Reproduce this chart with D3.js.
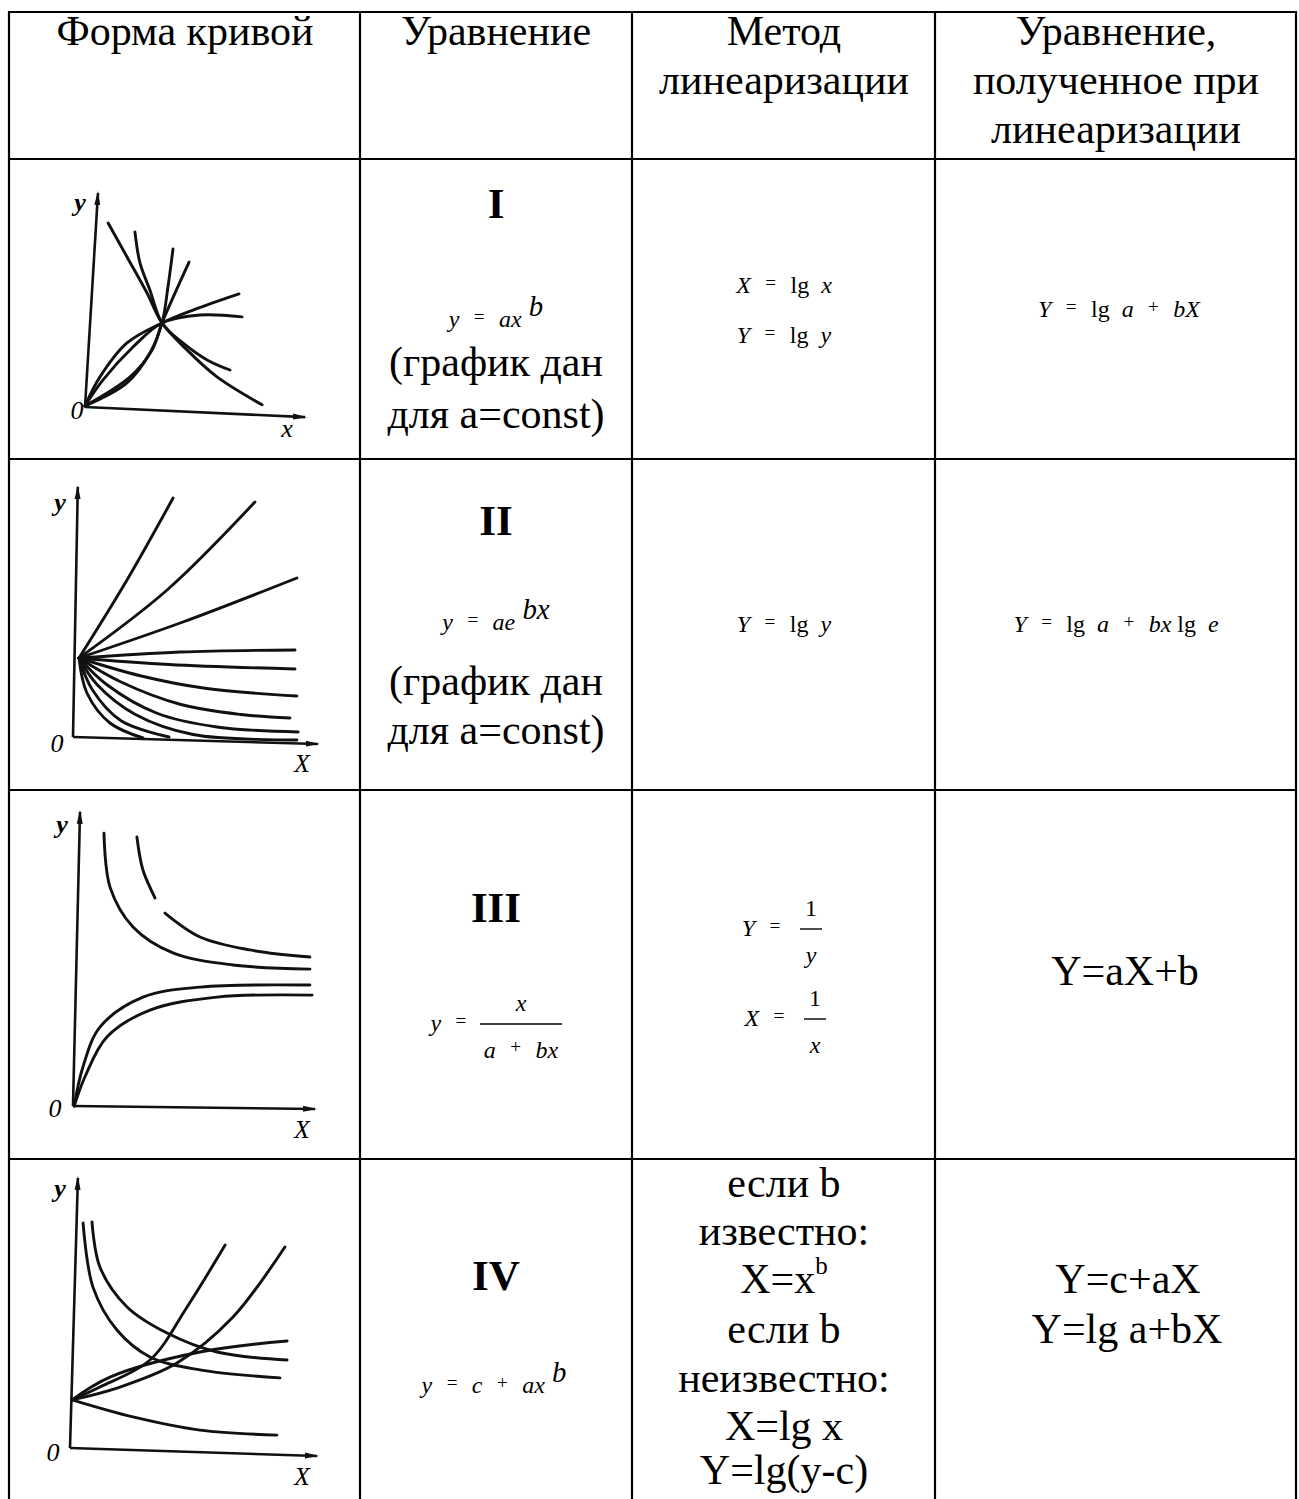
<!DOCTYPE html>
<html>
<head>
<meta charset="utf-8">
<script src="https://cdn.jsdelivr.net/npm/d3@7"></script>
<style>
    body { margin: 0; background: #fff; }
    svg { display: block; }
    text { font-family: "Liberation Serif", "Times New Roman", serif; fill: #000; white-space: pre; }
    .grid { stroke: #000; stroke-width: 2.2; }
    .curve { fill: none; stroke: #111; stroke-width: 2.9; stroke-linecap: round; }
    .axisLine { fill: none; stroke: #111; stroke-width: 2.6; }
</style>
</head>
<body>
<script>
(function () {

    //---- table text ----
    var headerLines = [
        ["Форма кривой"],
        ["Уравнение"],
        ["Метод", "линеаризации"],
        ["Уравнение,", "полученное при", "линеаризации"]
    ];
    var romanNums = ["I", "II", "III", "IV"];
    var noteLines = ["(график дан", "для a=const)"];

    //formula pieces: [text, kind]  kind: i = italic, eq = small sign, sup = superscript
    var eqPower = [["y", "i"], ["   =   ", "eq"], ["ax", "i"], [" b", "sup"]];
    var eqExp = [["y", "i"], ["   =   ", "eq"], ["ae", "i"], [" bx", "sup"]];
    var eqPowerShift = [["y", "i"], ["   =   ", "eq"], ["c", "i"], ["   +   ", "eq"], ["ax", "i"], [" b", "sup"]];
    var methodLogX = [["X", "i"], ["   =   ", "eq"], ["lg  "], ["x", "i"]];
    var methodLogY = [["Y", "i"], ["   =   ", "eq"], ["lg  "], ["y", "i"]];
    var resultI = [["Y", "i"], ["   =   ", "eq"], ["lg  "], ["a", "i"], ["   +   ", "eq"], ["bX", "i"]];
    var resultII = [["Y", "i"], ["   =   ", "eq"], ["lg  "], ["a", "i"], ["   +   ", "eq"], ["bx", "i"], [" lg  "], ["e", "i"]];
    var fracIII = { left: [["y", "i"], ["   =  ", "eq"]], num: [["x", "i"]], den: [["a", "i"], ["   +   ", "eq"], ["bx", "i"]] };
    var methodFracIII = [
        { left: [["Y", "i"], ["   =  ", "eq"]], num: [["1"]], den: [["y", "i"]] },
        { left: [["X", "i"], ["   =  ", "eq"]], num: [["1"]], den: [["x", "i"]] }
    ];
    var resultIII = ["Y=aX+b"];
    var methodIV = ["если b", "известно:", "X=x", "если b", "неизвестно:", "X=lg x", "Y=lg(y-c)"];
    var resultIV = ["Y=c+aX", "Y=lg a+bX"];

    //---- sketch curves in panel units (0..100 on each axis) ----
    var axesI = [[[0, 0], [5.9, 99.5]], [[0, 0], [100, -4.7]]];
    var curvesI = [
        [[10.5, 85.6], [19.1, 69.8], [28.2, 53.0], [35, 39.1], [46.4, 26.5], [60, 14], [80.5, 1]],
        [[22.7, 81.4], [25, 67], [29.5, 54.4], [35, 39.1], [44.5, 29.8], [55.5, 21.9], [65.9, 17.2]],
        [[0, 0.5], [19.1, 11.2], [29.5, 25.1], [35, 39.1], [37.7, 55.8], [40, 73.5]],
        [[0, 0.5], [20.5, 14], [30.5, 26.5], [35, 39.1], [40.9, 53], [47.3, 67.4]],
        [[0, 0.5], [6.8, 14], [19.1, 29.8], [35, 39.1], [49.1, 45.1], [70, 52.6]],
        [[0, 0.5], [8.2, 12.6], [21.8, 27.9], [35, 39.1], [52.3, 42.8], [71.4, 41.9]]
    ];
    var labelsI = [["y", -2.3, 95.3], ["0", -3.6, -1.4], ["x", 91.8, -9.8]];

    var axesII = [[[0, 0], [2, 100]], [[0, 0], [102, -2.8]]];
    var curvesII = [
        [[2.5, 31.6], [22.5, 62.8], [41.7, 95.6]],
        [[2.5, 31.6], [39.2, 58.8], [75.8, 94]],
        [[2.5, 31.6], [45.8, 46], [93.3, 63.6]],
        [[2.5, 31.6], [44.6, 34], [92.5, 34.8]],
        [[2.5, 31.6], [40, 29], [92.5, 27.2]],
        [[2.5, 31.6], [28, 24.5], [55, 19.5], [93.3, 16.4]],
        [[2.5, 31.6], [20, 22], [45, 13], [70, 9], [90.4, 7.6]],
        [[2.5, 31.6], [14, 21], [35, 9.5], [60, 4], [93.8, 2]],
        [[2.5, 31.6], [10, 21], [26, 9], [50, 1], [93.3, -1.2]],
        [[2.5, 31.6], [8, 19], [20, 6.5], [40, 0]],
        [[2.5, 31.6], [5.8, 17.6], [15.4, 5.6], [29.2, -0.4]]
    ];
    var labelsII = [["y", -5.4, 94], ["0", -6.7, -2.4], ["X", 95.4, -10.4]];

    var axesIII = [[[0, 0], [2.9, 99.7]], [[0, 0], [100, -1]]];
    var curvesIII = [
        [[12.8, 92.5], [15.3, 74.2], [24.8, 60.7], [41.3, 51.9], [66.1, 47.8], [97.9, 46.4]],
        [[26.4, 91.2], [28.9, 80], [33.9, 70.5]],
        [[38, 65.4], [52.5, 57.3], [73.1, 52.9], [97.9, 50.5]],
        [[0.5, 0], [4.1, 13.2], [11.2, 26.8], [28.9, 36.9], [52.5, 40.3], [97.9, 41]],
        [[0.5, 0], [5, 10], [14, 23.4], [31.8, 32.5], [59.5, 36.9], [98.8, 37.6]]
    ];
    var labelsIII = [["y", -4.5, 95.3], ["0", -7.4, -0.7], ["X", 94.6, -8.1]];

    var axesIV = [[[0, 0], [3.2, 98.2]], [[0, 0], [100, -2.9]]];
    var curvesIV = [
        [[5.3, 81.8], [9.3, 58.5], [19, 42.9], [32.4, 33.1], [52.6, 28.4], [85, 25.5]],
        [[8.9, 82.2], [12.1, 65.8], [23.1, 51.3], [39.3, 41.8], [59.5, 34.9], [87.9, 32]],
        [[0.8, 17.5], [12.1, 22.2], [32.4, 32], [47.4, 51.3], [62.8, 73.8]],
        [[0.8, 17.5], [19, 21.8], [43.3, 30.9], [66, 47.6], [87, 73.1]],
        [[0.8, 17.5], [16.2, 25.8], [52.6, 34.9], [87.9, 38.9]],
        [[0.8, 17.5], [25.5, 11.3], [52.6, 6.5], [83.8, 4.7]]
    ];
    var labelsIV = [["y", -4, 94.5], ["0", -6.9, -1.8], ["X", 93.9, -10.5]];

    //---- layout ----
    var width = 1299, height = 1499;
    var colX = [9, 360, 632, 935, 1296];
    var rowY = [12, 159, 459, 790, 1159];
    var colMid = [185, 496, 784, 1116];
    var bodySize = 42, mathSize = 24;

    var svg = d3.select("body").append("svg")
        .attr("width", width)
        .attr("height", height);

    //arrow head for the sketch axes
    svg.append("defs").append("marker")
        .attr("id", "arrow")
        .attr("viewBox", "0 0 14 8")
        .attr("refX", 12).attr("refY", 4)
        .attr("markerWidth", 14).attr("markerHeight", 8)
        .attr("markerUnits", "userSpaceOnUse")
        .attr("orient", "auto")
        .append("path")
        .attr("d", "M0,1 L14,4 L0,7 Z")
        .attr("fill", "#111");

    //table rules
    svg.selectAll(".hRule")
        .data(rowY)
        .enter()
        .append("line")
        .attr("class", "grid hRule")
        .attr("x1", colX[0] - 1).attr("x2", colX[4] + 1)
        .attr("y1", function (d) { return d; })
        .attr("y2", function (d) { return d; });

    svg.selectAll(".vRule")
        .data(colX)
        .enter()
        .append("line")
        .attr("class", "grid vRule")
        .attr("x1", function (d) { return d; })
        .attr("x2", function (d) { return d; })
        .attr("y1", rowY[0] - 1).attr("y2", height);

    function bodyText(x, y, txt, size, weight) {
        return svg.append("text")
            .attr("x", x).attr("y", y)
            .attr("text-anchor", "middle")
            .style("font-size", (size || bodySize) + "px")
            .style("font-weight", weight || "normal")
            .text(txt);
    }

    //header
    var headerBase = [45, 94, 143];
    headerLines.forEach(function (lines, c) {
        lines.forEach(function (txt, k) {
            bodyText(colMid[c], headerBase[k], txt);
        });
    });

    //helper to write a small formula from pieces
    function mathText(x, y, parts, size, anchor) {
        var t = svg.append("text")
            .attr("x", x).attr("y", y)
            .attr("text-anchor", anchor || "middle")
            .style("font-size", size + "px");
        var lift = 0;
        parts.forEach(function (p) {
            var kind = p[1] || "r", shift = 0, fs = size, italic = false;
            if (kind == "i") italic = true;
            if (kind == "eq") { fs = size * 0.8; shift = size * 0.18; }
            if (kind == "sup") { fs = size * 1.2; shift = size * 0.45; italic = true; }
            t.append("tspan")
                .attr("dy", lift - shift)
                .style("font-size", fs + "px")
                .style("font-style", italic ? "italic" : "normal")
                .text(p[0]);
            lift = shift;
        });
        return t;
    }

    //a stacked fraction  left = num / den
    function fraction(xLeft, xMid, yLine, halfW, f, size) {
        mathText(xLeft, yLine + size * 0.3, f.left, size, "end");
        mathText(xMid, yLine - size * 0.55, f.num, size);
        svg.append("line")
            .attr("x1", xMid - halfW).attr("x2", xMid + halfW)
            .attr("y1", yLine).attr("y2", yLine)
            .attr("stroke", "#000").attr("stroke-width", 1.4);
        mathText(xMid, yLine + size * 1.4, f.den, size);
    }

    //roman numbers
    var romanBase = [218, 535, 922, 1290];
    romanNums.forEach(function (r, i) {
        bodyText(colMid[1], romanBase[i], r, 43, "bold");
    });

    //row I
    mathText(colMid[1], 327, eqPower, mathSize);
    bodyText(colMid[1], 376, noteLines[0]);
    bodyText(colMid[1], 428, noteLines[1]);
    mathText(colMid[2], 293, methodLogX, mathSize);
    mathText(colMid[2], 343, methodLogY, mathSize);
    mathText(colMid[3] + 3, 317, resultI, mathSize);

    //row II
    mathText(colMid[1], 630, eqExp, mathSize);
    bodyText(colMid[1], 695, noteLines[0]);
    bodyText(colMid[1], 744, noteLines[1]);
    mathText(colMid[2], 632, methodLogY, mathSize);
    mathText(colMid[3], 632, resultII, mathSize);

    //row III
    fraction(476, 521, 1024, 41, fracIII, mathSize);
    fraction(790, 811, 929, 11, methodFracIII[0], mathSize);
    fraction(794, 815, 1019, 11, methodFracIII[1], mathSize);
    bodyText(colMid[3] + 9, 985, resultIII[0]);

    //row IV
    mathText(colMid[1] - 2, 1393, eqPowerShift, mathSize);
    var methodBase = [1197, 1245, 1293, 1343, 1392, 1440, 1484];
    methodIV.forEach(function (txt, k) {
        var t = bodyText(colMid[2], methodBase[k], txt);
        if (txt == "X=x") {
            t.append("tspan").attr("dy", -19).style("font-size", "25px").text("b");
        }
    });
    bodyText(colMid[3] + 12, 1293, resultIV[0]);
    bodyText(colMid[3] + 11, 1343, resultIV[1]);

    //---- sketch panels ----
    var panels = [
        { x0: 85, y0: 407, w: 220, h: 215, axes: axesI, curves: curvesI, labels: labelsI },
        { x0: 73, y0: 737, w: 240, h: 250, axes: axesII, curves: curvesII, labels: labelsII },
        { x0: 73, y0: 1106, w: 242, h: 295, axes: axesIII, curves: curvesIII, labels: labelsIII },
        { x0: 70, y0: 1448, w: 247, h: 275, axes: axesIV, curves: curvesIV, labels: labelsIV }
    ];

    panels.forEach(function (p, idx) {
        var xScale = d3.scaleLinear().domain([0, 100]).range([p.x0, p.x0 + p.w]);
        var yScale = d3.scaleLinear().domain([0, 100]).range([p.y0, p.y0 - p.h]);

        var smooth = d3.line()
            .x(function (d) { return xScale(d[0]); })
            .y(function (d) { return yScale(d[1]); })
            .curve(d3.curveCatmullRom.alpha(0.5));

        var straight = d3.line()
            .x(function (d) { return xScale(d[0]); })
            .y(function (d) { return yScale(d[1]); });

        var g = svg.append("g").attr("class", "panel panel" + idx);

        g.selectAll(".axisLine")
            .data(p.axes)
            .enter()
            .append("path")
            .attr("class", "axisLine")
            .attr("d", straight)
            .attr("marker-end", "url(#arrow)");

        g.selectAll(".curve")
            .data(p.curves)
            .enter()
            .append("path")
            .attr("class", "curve")
            .attr("d", smooth);

        g.selectAll(".axisLabel")
            .data(p.labels)
            .enter()
            .append("text")
            .attr("class", "axisLabel")
            .attr("x", function (d) { return xScale(d[1]); })
            .attr("y", function (d) { return yScale(d[2]); })
            .attr("text-anchor", "middle")
            .attr("dominant-baseline", "central")
            .style("font-size", "26px")
            .style("font-style", "italic")
            .style("font-weight", function (d) { return d[0] == "y" ? "bold" : "normal"; })
            .text(function (d) { return d[0]; });
    });

})();
</script>
</body>
</html>
